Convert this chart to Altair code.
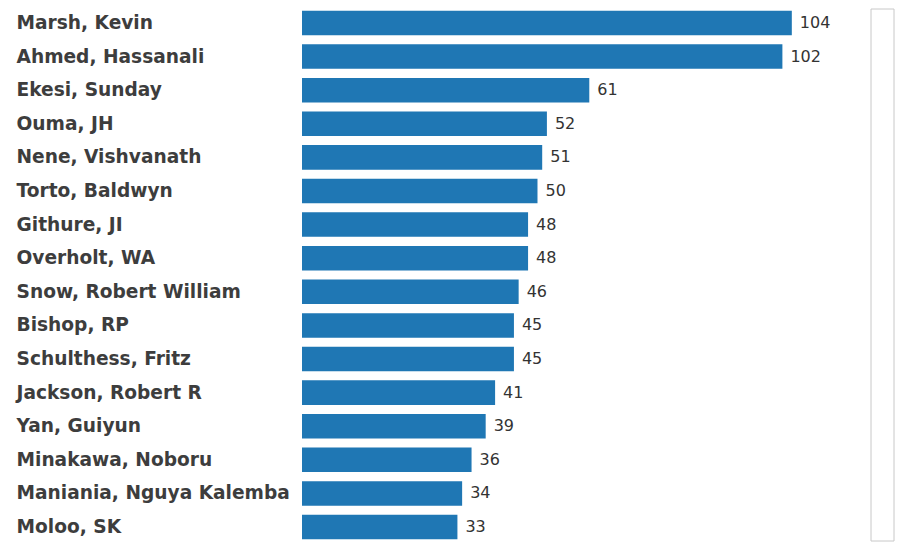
import altair as alt
import pandas as pd

names = [
    "Marsh, Kevin", "Ahmed, Hassanali", "Ekesi, Sunday", "Ouma, JH",
    "Nene, Vishvanath", "Torto, Baldwyn", "Githure, JI", "Overholt, WA",
    "Snow, Robert William", "Bishop, RP", "Schulthess, Fritz",
    "Jackson, Robert R", "Yan, Guiyun", "Minakawa, Noboru",
    "Maniania, Nguya Kalemba", "Moloo, SK",
]
counts = [104, 102, 61, 52, 51, 50, 48, 48, 46, 45, 45, 41, 39, 36, 34, 33]

df = pd.DataFrame({"name": names, "count": counts})

W = 568
H = 532
BLUE = "#1f77b4"

y_enc = alt.Y(
    "name:N",
    sort=names,
    scale=alt.Scale(paddingInner=0.27, paddingOuter=0.05),
    axis=alt.Axis(
        title=None,
        labelAlign="left",
        labelBaseline="middle",
        labelPadding=286,
        tickSize=0,
        ticks=False,
        domain=False,
        grid=False,
        labelFont="DejaVu Sans",
        labelFontWeight="bold",
        labelFontSize=18.6,
        labelColor="#3d3d3d",
        labelLimit=0,
    ),
)
x_enc = alt.X("count:Q", scale=alt.Scale(domain=[0, 120.6], nice=False, zero=True), axis=None)

base = alt.Chart(df)

bars = base.mark_bar(color=BLUE).encode(x=x_enc, y=y_enc)

labels = base.mark_text(
    align="left", baseline="middle", dx=8,
    font="DejaVu Sans", fontSize=16, color="#333333",
).encode(x=x_enc, y=y_enc, text="count:Q")

scroll = alt.Chart(pd.DataFrame({"a": [0]})).mark_rect(
    fill="white", stroke="#c8c8c8", strokeWidth=1
).encode(
    x=alt.value(569), x2=alt.value(592),
    y=alt.value(0), y2=alt.value(H),
)

chart = (
    alt.layer(bars, labels, scroll)
    .properties(width=W, height=H, padding={"left": 8, "top": 0, "right": 0, "bottom": 0})
    .configure_view(stroke=None)
)

chart.save("out.html", embed_options={"renderer": "svg", "actions": False})
